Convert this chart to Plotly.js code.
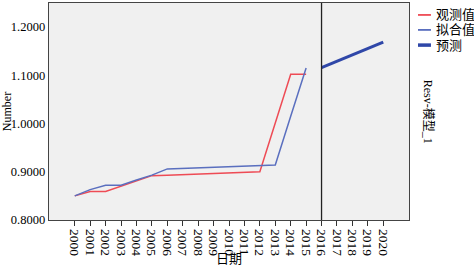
<!DOCTYPE html>
<html>
<head>
<meta charset="utf-8">
<script src="https://cdn.plot.ly/plotly-3.0.1.min.js"></script>
<style>html,body{margin:0;padding:0;background:#fff}#chart{width:474px;height:266px}</style>
</head>
<body>
<div id="chart"></div>
<script>
const years = ["2000","2001","2002","2003","2004","2005","2006","2007","2008","2009","2010","2011","2012","2013","2014","2015","2016","2017","2018","2019","2020"];
const obsYears = ["2000","2001","2002","2003","2004","2005","2006","2007","2008","2009","2010","2011","2012","2013","2014","2015"];
const observed = [0.850,0.859,0.859,0.870,0.881,0.892,0.893,0.894,0.895,0.896,0.898,0.899,0.900,1.001,1.102,1.102];
const fitted   = [0.850,0.863,0.872,0.872,0.883,0.893,0.906,0.907,0.908,0.909,0.910,0.911,0.913,0.914,1.015,1.115];
const forecastYears = ["2016","2017","2018","2019","2020"];
const forecast = [1.116,1.129,1.142,1.155,1.169];
const legendLabels = ["观测值","拟合值","预测"];
const yTicks = [0.8,0.9,1.0,1.1,1.2];
const yTickText = ["0.8000","0.9000","1.0000","1.1000","1.2000"];
const modelLabel = "Resv-模型_1";
const xTitle = "日期";
const yTitle = "Number";

const colors = ["#ee4b55","#5a6fbf","#2f47a8"];
const widths = [1.5,1.5,3];
const serif = "Liberation Serif, 'Noto Sans CJK SC', serif";

const traces = [
  {x: obsYears, y: observed, name: legendLabels[0], mode: "lines", line: {color: colors[0], width: widths[0]}},
  {x: obsYears, y: fitted, name: legendLabels[1], mode: "lines", line: {color: colors[1], width: widths[1]}},
  {x: forecastYears, y: forecast, name: legendLabels[2], mode: "lines", line: {color: colors[2], width: widths[2]}}
];

const splitIdx = years.indexOf(forecastYears[0]);
const legYs = [0.945, 0.876, 0.806];
const shapes = [{type: "line", xref: "x", yref: "paper", x0: splitIdx, x1: splitIdx, y0: 0, y1: 1, line: {color: "#222", width: 1.3}}];
const annotations = [];
legendLabels.forEach((lab, i) => {
  shapes.push({type: "line", xref: "paper", yref: "paper", x0: 1.025, x1: 1.061, y0: legYs[i], y1: legYs[i], line: {color: colors[i], width: i === 2 ? 3.5 : 1.8}});
  annotations.push({xref: "paper", yref: "paper", x: 1.07, y: legYs[i], xanchor: "left", yanchor: "middle", showarrow: false, text: lab, font: {family: serif, size: 13, color: "#000"}});
});
annotations.push({xref: "paper", yref: "paper", x: 1.03, y: 0.5, xanchor: "left", yanchor: "middle", showarrow: false, textangle: 90, text: modelLabel, font: {family: serif, size: 12, color: "#000"}});

const layout = {
  width: 474, height: 266,
  margin: {l: 49, r: 65, t: 3, b: 46},
  paper_bgcolor: "#ffffff",
  plot_bgcolor: "#f0f0f0",
  showlegend: false,
  font: {family: serif, color: "#000"},
  xaxis: {
    type: "category", categoryorder: "array", categoryarray: years,
    tickmode: "array", tickvals: years, ticktext: years,
    range: [-1.67, 21.67], tickangle: 90, ticks: "outside", ticklen: 5, tickcolor: "#333",
    showgrid: false, zeroline: false, showline: true, linecolor: "#444", linewidth: 1.3, mirror: true,
    tickfont: {family: serif, size: 13.5, color: "#000"},
    title: {text: xTitle, font: {family: serif, size: 13, color: "#000"}, standoff: 0}
  },
  yaxis: {
    range: [0.8, 1.25], tickvals: yTicks, ticktext: yTickText, ticks: "", ticklabelstandoff: 0,
    showgrid: false, zeroline: false, showline: true, linecolor: "#444", linewidth: 1.3, mirror: true,
    tickfont: {family: serif, size: 12.5, color: "#000"},
    title: {text: yTitle, font: {family: serif, size: 12, color: "#000"}, standoff: 2}
  },
  shapes: shapes,
  annotations: annotations
};
Plotly.newPlot("chart", traces, layout, {displayModeBar: false, staticPlot: true});
</script>
</body>
</html>
